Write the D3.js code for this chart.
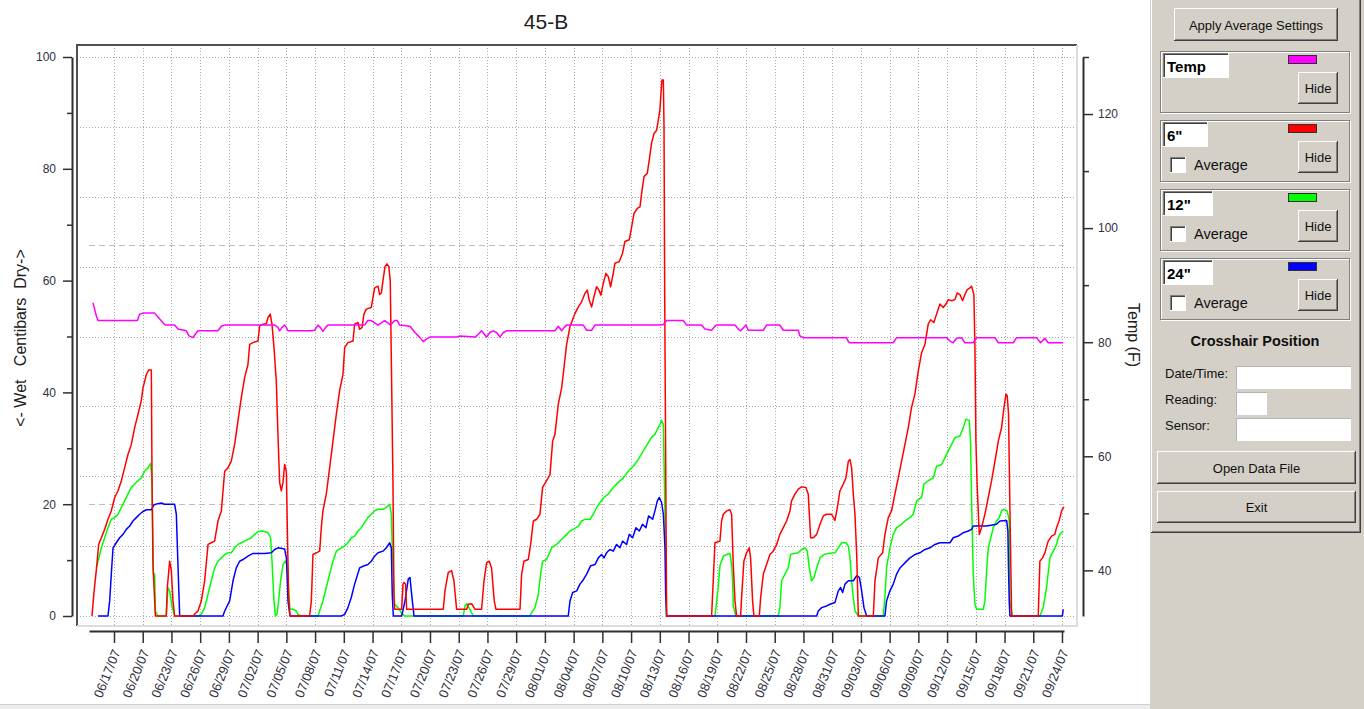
<!DOCTYPE html>
<html>
<head>
<meta charset="utf-8">
<script src="https://cdn.jsdelivr.net/npm/d3@7"></script>
<style>
  body { margin: 0; background: #fff; overflow: hidden; }
  text { font-family: "Liberation Sans", Arial, sans-serif; }
</style>
</head>
<body>
<svg id="chart" width="1364" height="709"></svg>
<script>
// chart values, days counted from 06/17/07 00:00
const title = "45-B";
const firstTickDay = Date.UTC(2007, 5, 17);
const tickDays = d3.range(0, 100, 3);
const leftTicks = [0, 20, 40, 60, 80, 100];
const leftMinor = [10, 30, 50, 70, 90];
const rightTicks = [40, 60, 80, 100, 120];
const rightMinor = [50, 70, 90, 110, 130];
const refLines = [20, 66.4];

// Temp (F), right axis
const temp = [[-2.19,86.9],[-1.84,84.6],[-1.67,83.8],[2.44,83.8],[2.68,84.9],[3.03,85.1],[4.25,85.1],[4.59,84.4],[5.12,83.4],[5.36,83.0],[6.33,83.0],[6.68,82.3],[7.55,82.0],[7.83,81.1],[8.25,80.8],[8.49,81.4],[8.77,82.0],[10.86,82.0],[11.21,82.8],[11.56,83.0],[16.78,83.0],[17.12,82.6],[17.30,82.0],[17.54,82.6],[17.82,83.0],[18.00,82.6],[18.17,82.0],[20.61,82.0],[20.95,82.1],[21.30,83.0],[21.55,82.6],[21.82,81.9],[22.10,82.6],[22.35,83.0],[26.17,83.0],[26.52,83.8],[26.87,83.8],[27.22,83.4],[27.57,83.0],[27.92,83.4],[28.26,83.8],[28.61,83.4],[28.89,83.0],[29.31,83.8],[29.59,83.8],[29.83,83.0],[30.91,82.8],[31.43,81.7],[31.95,80.8],[32.30,80.1],[32.58,80.5],[33.00,80.9],[35.78,80.9],[36.13,81.1],[37.70,80.9],[38.04,81.4],[38.39,82.0],[38.67,81.4],[38.91,80.9],[39.25,81.7],[39.60,82.0],[39.95,81.7],[40.31,80.9],[40.65,81.7],[41.00,82.0],[46.05,82.0],[46.40,82.8],[46.75,82.0],[47.02,82.6],[47.27,83.0],[49.01,83.0],[49.36,82.1],[49.88,82.1],[50.23,83.0],[57.02,83.0],[57.37,83.1],[57.71,83.8],[59.45,83.8],[59.80,83.0],[61.36,83.0],[61.71,82.3],[62.41,82.1],[62.76,82.8],[62.93,83.0],[64.85,83.0],[65.19,82.3],[65.44,82.0],[65.78,82.6],[65.99,83.0],[66.24,82.1],[67.81,82.1],[68.15,83.0],[69.54,83.0],[69.89,82.1],[71.46,82.1],[71.63,81.1],[71.98,80.8],[76.51,80.8],[76.69,80.1],[76.86,79.9],[81.38,79.9],[81.73,80.8],[86.95,80.8],[87.30,80.2],[87.64,79.9],[87.99,80.7],[88.51,80.8],[88.86,79.9],[89.73,79.9],[90.08,80.8],[92.00,80.8],[92.35,79.9],[93.91,79.9],[94.26,80.8],[96.35,80.8],[96.76,79.9],[97.21,80.7],[97.56,79.9],[99.13,79.9]];

// 6" sensor, centibars
const sixInch = [[-2.30,0],[-2.09,4.2],[-1.84,8.3],[-1.60,12.8],[-1.32,14.0],[-0.97,15.5],[-0.63,17.3],[-0.28,18.8],[0.07,21.2],[0.42,22.4],[0.77,24.2],[1.11,26.5],[1.46,28.9],[1.81,30.7],[2.16,33.7],[2.51,36.1],[2.85,38.5],[3.03,40.8],[3.38,43.2],[3.62,44.0],[3.90,44.0],[3.97,24.7],[4.07,9.2],[4.32,0],
  [5.46,0],[5.57,5.1],[5.81,9.8],[5.99,8.1],[6.16,2.7],[6.33,0],
  [8.25,0],[8.42,0.3],[8.77,0.9],[9.12,2.7],[9.47,6.3],[9.82,12.8],[10.16,13.1],[10.51,13.4],[10.86,17.0],[11.21,18.8],[11.56,25.9],[11.90,26.5],[12.25,27.7],[12.60,30.7],[12.95,34.9],[13.30,39.1],[13.64,42.6],[13.99,45.0],[14.17,48.6],[14.51,48.9],[15.04,49.2],[15.21,51.9],[15.56,52.2],[15.91,52.3],[16.08,53.4],[16.32,54.0],[16.50,52.2],[16.71,48.0],[16.95,42.0],[17.12,32.5],[17.30,23.9],[17.47,22.4],[17.65,23.9],[17.82,27.1],[18.00,25.9],[18.10,15.8],[18.24,3.3],[18.38,0],
  [20.43,0],[20.61,2.7],[20.78,11.0],[21.13,11.3],[21.48,11.6],[21.65,15.8],[21.82,18.8],[22.17,21.8],[22.52,26.5],[22.87,31.3],[23.22,36.1],[23.56,40.3],[23.91,43.2],[24.09,48.0],[24.43,48.9],[24.96,49.2],[25.13,52.2],[25.48,52.5],[25.65,51.3],[25.90,51.6],[26.10,54.0],[26.35,54.9],[26.87,55.2],[27.04,56.9],[27.22,58.7],[27.57,59.0],[27.74,57.5],[27.92,57.8],[28.09,60.0],[28.30,62.5],[28.50,63.0],[28.70,62.5],[28.85,60.0],[28.96,46.2],[29.13,24.2],[29.24,3.3],[29.31,1.2],
  [30.04,1.2],[30.18,5.7],[30.30,6.0],[30.45,5.7],[30.56,1.2],
  [34.39,1.2],[34.56,4.5],[34.91,7.8],[35.26,8.1],[35.50,6.3],[35.78,1.2],
  [36.83,1.2],[37.00,2.1],[37.35,2.2],[37.70,1.2],
  [38.39,1.2],[38.64,6.3],[38.91,9.5],[39.19,9.8],[39.43,8.6],[39.71,2.7],[39.89,1.2],
  [42.40,1.2],[42.57,7.5],[42.81,9.8],[43.26,10.1],[43.51,12.8],[43.79,17.0],[44.14,17.3],[44.48,18.2],[44.76,23.0],[45.18,24.2],[45.53,25.3],[45.81,31.3],[46.05,32.5],[46.40,37.9],[46.75,40.8],[46.99,44.4],[47.27,48.6],[47.62,51.8],[48.14,54.1],[48.49,55.3],[48.83,56.2],[49.18,57.7],[49.43,58.3],[49.63,56.5],[49.88,55.3],[50.12,57.1],[50.40,58.9],[50.64,58.3],[50.85,57.4],[51.10,59.5],[51.37,61.3],[51.62,60.7],[51.86,58.9],[52.14,61.3],[52.31,63.1],[52.77,63.4],[53.11,64.9],[53.36,67.0],[53.81,67.3],[54.06,69.6],[54.30,72.0],[54.65,72.9],[54.93,73.2],[55.10,75.6],[55.35,78.6],[55.69,79.2],[55.90,81.6],[56.14,84.6],[56.39,86.3],[56.67,86.9],[56.84,88.7],[57.01,90.5],[57.12,93.5],[57.23,95.9],[57.37,95.9],[57.44,87.5],[57.51,57.7],[57.71,0],
  [62.41,0],[62.58,6.3],[62.76,13.1],[63.28,13.4],[63.45,17.0],[63.63,18.2],[63.98,18.8],[64.32,19.0],[64.50,18.2],[64.67,9.2],[64.85,2.7],[65.02,0],
  [65.44,0],[65.54,3.3],[65.78,9.8],[66.06,11.3],[66.34,12.2],[66.48,10.4],[66.69,2.7],[66.83,0],
  [67.39,0],[67.53,3.3],[67.81,7.5],[68.15,9.2],[68.50,11.0],[68.85,11.6],[69.20,12.8],[69.54,14.6],[69.89,15.8],[70.24,17.0],[70.59,18.8],[70.76,20.6],[71.11,21.8],[71.46,22.7],[71.80,23.1],[72.26,23.0],[72.50,21.8],[72.75,14.0],[73.03,14.0],[73.38,14.6],[73.73,16.4],[74.07,17.9],[74.42,18.2],[74.94,18.2],[75.29,17.1],[75.54,19.4],[75.81,22.4],[76.16,23.6],[76.44,24.7],[76.69,27.7],[76.86,28.0],[77.03,26.5],[77.21,21.8],[77.38,18.2],[77.56,11.0],[77.73,0],
  [79.30,0],[79.47,6.3],[79.82,10.4],[80.27,11.3],[80.51,14.6],[80.86,17.6],[81.20,18.8],[81.55,21.8],[81.90,24.7],[82.25,27.7],[82.60,30.7],[82.95,33.7],[83.29,37.3],[83.64,39.7],[83.99,43.8],[84.34,47.1],[84.69,48.6],[85.03,52.2],[85.28,53.0],[85.62,52.5],[85.90,54.0],[86.25,55.8],[86.60,55.2],[86.88,55.8],[87.12,56.6],[87.47,56.4],[87.82,56.6],[88.06,57.8],[88.34,57.5],[88.62,56.4],[88.86,57.5],[89.11,58.4],[89.38,58.7],[89.56,59.0],[89.80,57.5],[89.91,48.0],[90.01,31.3],[90.15,23.0],[90.36,14.6],[90.60,15.8],[90.95,18.2],[91.30,21.2],[91.65,24.2],[92.00,27.7],[92.35,31.3],[92.69,33.7],[92.94,37.3],[93.15,39.7],[93.28,39.4],[93.42,36.1],[93.56,19.4],[93.74,0],
  [96.52,0],[96.69,9.8],[96.97,10.4],[97.21,11.3],[97.56,13.4],[97.91,14.3],[98.26,14.6],[98.43,15.8],[98.71,17.1],[98.96,18.8],[99.20,19.5]];

// 12" sensor
const twelveInch = [[-1.84,8.6],[-1.67,9.8],[-1.32,12.2],[-0.97,14.0],[-0.63,15.8],[-0.28,17.3],[0.07,17.6],[0.42,18.2],[0.77,19.4],[1.11,20.6],[1.46,21.8],[1.81,23.0],[2.16,23.6],[2.51,24.2],[2.85,24.7],[3.20,25.9],[3.55,26.5],[3.83,27.3],[3.97,24.2],[4.11,7.5],[4.25,7.5],[4.32,0.9],[4.59,0],
  [5.46,0],[5.64,5.1],[5.81,4.5],[6.09,1.5],[6.33,0],
  [8.77,0],[9.12,0.3],[9.47,1.5],[9.82,3.9],[10.16,6.3],[10.51,8.6],[10.86,9.8],[11.21,10.4],[11.56,11.0],[11.90,11.3],[12.25,11.3],[12.60,12.2],[12.95,12.8],[13.30,13.1],[13.64,13.4],[13.99,13.7],[14.34,14.0],[14.69,14.6],[15.04,15.1],[15.56,15.2],[16.08,14.9],[16.36,14.0],[16.50,9.8],[16.71,2.7],[16.85,0],[17.02,0.3],[17.19,2.7],[17.40,6.3],[17.65,9.2],[17.89,9.8],[18.10,9.2],[18.24,4.5],[18.38,1.2],[18.69,1.2],[19.04,0.9],[19.21,0.3],[19.56,0],
  [21.30,0],[21.48,0.9],[21.82,2.7],[22.17,5.1],[22.52,7.5],[22.87,9.8],[23.22,11.6],[23.74,12.2],[24.09,12.5],[24.43,13.1],[24.78,14.0],[25.13,14.3],[25.48,15.2],[25.83,15.8],[26.17,16.7],[26.52,17.6],[26.87,18.2],[27.22,18.8],[27.57,19.1],[28.09,19.1],[28.44,19.4],[28.79,20.0],[28.96,18.2],[29.06,12.2],[29.17,7.5],[29.31,2.1],[29.66,1.5],[30.00,0.6],[30.35,0],
  [36.48,0],[36.65,1.8],[36.83,2.2],[37.17,1.2],[37.52,0],
  [43.44,0],[43.61,0.6],[43.96,1.5],[44.31,3.9],[44.55,7.5],[44.76,9.8],[45.18,10.1],[45.70,12.2],[46.22,12.8],[46.57,13.4],[46.92,14.0],[47.27,14.6],[47.62,15.2],[47.97,15.5],[48.50,16.1],[48.84,17.0],[49.18,17.3],[49.71,17.3],[50.05,18.2],[50.40,19.4],[50.75,20.3],[51.17,21.2],[51.62,21.8],[52.14,23.0],[52.66,23.9],[53.19,24.7],[53.71,25.9],[54.23,26.8],[54.75,28.0],[55.27,29.5],[55.80,31.0],[56.15,32.0],[56.49,32.5],[56.74,33.4],[57.02,34.3],[57.19,35.0],[57.37,34.3],[57.54,18.2],[57.71,0],
  [62.76,0],[63.10,5.1],[63.28,9.0],[63.63,10.7],[63.98,11.0],[64.32,11.2],[64.50,9.2],[64.60,6.3],[64.67,1.8],[64.95,0],
  [69.37,0],[69.54,1.5],[69.72,6.3],[70.07,7.5],[70.41,8.6],[70.66,11.0],[71.00,11.2],[71.46,11.3],[71.80,11.9],[72.15,12.2],[72.40,11.6],[72.61,8.6],[72.85,6.3],[73.10,6.9],[73.38,8.6],[73.73,10.4],[74.14,11.0],[74.59,11.2],[75.29,11.3],[75.64,12.2],[75.99,13.1],[76.44,13.1],[76.69,12.5],[76.86,10.4],[77.03,6.3],[77.21,3.3],[77.38,0.9],[77.73,0],
  [80.33,0],[80.51,3.3],[80.68,8.6],[81.03,12.2],[81.38,14.6],[81.73,15.8],[82.25,16.4],[82.60,17.0],[83.12,17.6],[83.47,18.2],[83.82,20.6],[84.34,21.2],[84.58,23.6],[85.03,24.2],[85.56,24.7],[85.90,26.8],[86.43,27.1],[86.77,28.3],[87.12,29.5],[87.47,30.7],[87.82,31.9],[88.34,32.2],[88.69,33.7],[88.97,35.2],[89.32,35.0],[89.45,31.3],[89.56,20.6],[89.73,7.5],[89.91,2.1],[90.08,1.2],[90.78,1.2],[90.95,2.7],[91.13,8.1],[91.30,12.2],[91.48,13.4],[91.65,14.6],[91.82,15.8],[92.17,17.0],[92.45,17.6],[92.69,18.8],[92.94,19.1],[93.28,18.8],[93.49,17.0],[93.56,2.7],[93.67,1.5],[93.84,0],
  [96.69,0],[97.04,1.5],[97.39,5.1],[97.74,10.4],[98.09,11.6],[98.43,12.8],[98.61,14.0],[98.78,14.6],[99.13,15.2]];

// 24" sensor
const twentyFourInch = [[-1.67,0],[-0.63,0],[-0.45,2.7],[-0.28,7.5],[-0.10,12.2],[0.24,13.1],[0.59,14.0],[0.94,14.6],[1.29,15.5],[1.64,16.1],[1.98,17.0],[2.33,17.6],[2.68,18.2],[3.03,18.7],[3.38,19.0],[3.90,19.0],[4.18,19.9],[4.59,20.1],[4.94,20.2],[5.29,20.0],[6.33,20.0],[6.51,18.2],[6.68,9.2],[6.86,0],
  [11.38,0],[11.56,0.9],[12.08,2.7],[12.43,6.3],[12.77,8.6],[13.12,9.8],[13.47,10.1],[13.99,10.7],[14.51,11.2],[15.73,11.2],[16.43,11.3],[16.78,11.9],[17.12,12.2],[17.82,12.0],[18.00,10.4],[18.10,6.3],[18.17,2.7],[18.38,0],
  [23.74,0],[24.09,0.3],[24.43,1.5],[24.78,3.3],[25.13,5.7],[25.65,8.6],[26.00,8.9],[26.52,9.2],[26.87,9.8],[27.22,10.7],[27.57,11.3],[28.09,11.6],[28.44,12.2],[28.79,13.1],[28.96,12.2],[29.06,3.9],[29.17,0],
  [30.04,0],[30.39,2.7],[30.73,6.6],[30.91,6.9],[31.12,3.3],[31.33,0],
  [47.44,0],[47.62,2.7],[47.90,4.2],[48.32,4.5],[48.66,5.7],[48.94,6.3],[49.36,7.5],[49.78,9.0],[50.23,9.2],[50.58,10.4],[50.92,11.0],[51.17,10.4],[51.44,11.3],[51.79,11.9],[52.14,11.6],[52.49,12.8],[52.84,12.2],[53.12,13.4],[53.53,12.8],[53.81,14.6],[54.16,14.0],[54.51,15.8],[54.86,15.2],[55.20,16.4],[55.55,15.8],[55.83,17.9],[56.25,17.3],[56.49,18.8],[56.74,20.6],[56.95,21.2],[57.19,20.3],[57.37,18.2],[57.54,12.2],[57.61,3.9],[57.71,0],
  [73.38,0],[73.55,0.9],[73.90,1.5],[74.42,1.8],[74.77,2.1],[75.29,2.4],[75.64,4.5],[75.88,5.1],[76.09,4.2],[76.34,5.7],[76.69,6.3],[77.21,6.3],[77.56,7.2],[77.84,6.9],[78.08,4.5],[78.32,1.5],[78.60,0],
  [80.51,0],[80.68,2.7],[81.03,4.5],[81.38,5.7],[81.73,7.5],[82.08,8.6],[82.60,9.5],[83.12,10.4],[83.64,11.0],[84.16,11.3],[84.69,11.9],[85.21,12.2],[85.73,12.8],[86.25,13.1],[87.30,13.1],[87.64,14.0],[88.17,14.3],[88.69,14.9],[89.21,15.2],[89.56,15.5],[89.73,16.1],[91.13,16.1],[92.17,16.4],[92.52,17.0],[93.22,17.1],[93.35,15.2],[93.42,8.1],[93.49,2.7],[93.56,0],
  [99.04,0],[99.13,1.2]];

// side panel texts
const sensorNames = ["Temp", '6"', '12"', '24"'];
const hasAverage = [false, true, true, true];
const crosshairFields = ["Date/Time:", "Reading:", "Sensor:"];

// styles
const sensorColors = ["#ff00ff", "#ff0000", "#00ff00", "#0000ff"];
const face = "#d4d0c8";

const toDate = d => new Date(firstTickDay + d * 864e5);

const svg = d3.select("#chart");

// scales
const x = d3.scaleUtc().domain([toDate(-2.61), toDate(99.21)]).range([89, 1064]);
const yL = d3.scaleLinear().domain([0, 100]).range([616, 57]);
const yR = d3.scaleLinear().domain([32, 130]).range([616, 57]);

const plot = { left: 77, top: 45, right: 1077, bottom: 626 };

// grid
const grid = svg.append("g").attr("stroke", "#a8a8a8").attr("stroke-dasharray", "1,2").attr("shape-rendering", "crispEdges");
grid.selectAll("line.h").data(d3.range(0, 100.1, 12.5)).join("line")
  .attr("x1", plot.left).attr("x2", plot.right)
  .attr("y1", d => Math.round(yL(d)) + 0.5).attr("y2", d => Math.round(yL(d)) + 0.5);
grid.selectAll("line.v").data(tickDays).join("line")
  .attr("class", "v")
  .attr("x1", d => Math.round(x(toDate(d))) + 0.5).attr("x2", d => Math.round(x(toDate(d))) + 0.5)
  .attr("y1", plot.top).attr("y2", plot.bottom);

svg.append("g").selectAll("line").data(refLines).join("line")
  .attr("x1", x.range()[0]).attr("x2", x.range()[1])
  .attr("y1", d => Math.round(yL(d)) + 0.5).attr("y2", d => Math.round(yL(d)) + 0.5)
  .attr("stroke", "#bdbdbd").attr("stroke-dasharray", "6,4");

// frame
svg.append("path")
  .attr("d", `M${plot.left},${plot.bottom}V${plot.top}H${plot.right}`)
  .attr("fill", "none").attr("stroke", "#505050").attr("stroke-width", 2);
svg.append("path")
  .attr("d", `M${plot.left},${plot.bottom}H${plot.right}V${plot.top}`)
  .attr("fill", "none").attr("stroke", "#dcdcdc").attr("stroke-width", 2);

// series
const lineL = d3.line().x(d => x(toDate(d[0]))).y(d => yL(d[1]));
const lineR = d3.line().x(d => x(toDate(d[0]))).y(d => yR(d[1]));
[[twelveInch, 2], [twentyFourInch, 3], [sixInch, 1]].forEach(([s, i]) => {
  svg.append("path").attr("d", lineL(s)).attr("fill", "none")
    .attr("stroke", sensorColors[i]).attr("stroke-width", 1.5).attr("stroke-linejoin", "round");
});
svg.append("path").attr("d", lineR(temp)).attr("fill", "none")
  .attr("stroke", sensorColors[0]).attr("stroke-width", 1.5).attr("stroke-linejoin", "round");

// axes
function styleAxis(g) {
  g.select(".domain").attr("stroke", "#303030").attr("stroke-width", 2);
  g.selectAll(".tick line").attr("stroke", "#303030").attr("stroke-width", 1.5);
  g.selectAll("text").attr("fill", "#303040").attr("font-size", 12)
    .attr("font-family", '"Liberation Sans", Arial, sans-serif');
}

svg.append("g").attr("transform", "translate(72,0)")
  .call(d3.axisLeft(yL).tickValues(leftTicks).tickSize(9).tickPadding(7).tickSizeOuter(0))
  .call(styleAxis);
svg.append("g").attr("transform", "translate(72,0)")
  .call(d3.axisLeft(yL).tickValues(leftMinor).tickSize(5).tickFormat(""))
  .call(g => g.select(".domain").remove())
  .call(styleAxis);

svg.append("g").attr("transform", "translate(1083,0)")
  .call(d3.axisRight(yR).tickValues(rightTicks).tickSize(10).tickPadding(5).tickSizeOuter(0))
  .call(styleAxis);
svg.append("g").attr("transform", "translate(1083,0)")
  .call(d3.axisRight(yR).tickValues(rightMinor).tickSize(6).tickFormat(""))
  .call(g => g.select(".domain").remove())
  .call(styleAxis);

svg.append("g").attr("transform", "translate(0,631)")
  .call(d3.axisBottom(x).tickValues(tickDays.map(toDate)).tickFormat(d3.utcFormat("%m/%d/%y"))
    .tickSize(12).tickSizeOuter(0))
  .call(styleAxis)
  .call(g => g.selectAll(".tick text")
    .attr("font-size", 13)
    .attr("x", 0).attr("y", 0).attr("dy", "0.35em")
    .attr("text-anchor", "end")
    .attr("transform", "translate(2,19) rotate(-68)"));

// titles
svg.append("text").attr("x", 546).attr("y", 29).attr("text-anchor", "middle")
  .attr("font-size", 21).attr("fill", "#202020").text(title);
svg.append("text").attr("transform", "translate(26,338) rotate(-90)").attr("text-anchor", "middle")
  .attr("font-size", 16).attr("fill", "#202020")
  .text("<- Wet\u00a0\u00a0 Centibars\u00a0 Dry->");
svg.append("text").attr("transform", "translate(1128,335) rotate(90)").attr("text-anchor", "middle")
  .attr("font-size", 16).attr("fill", "#202020").text("Temp (F)");

// bottom scroll strip
svg.append("rect").attr("x", 0).attr("y", 704).attr("width", 1150).attr("height", 5).attr("fill", "#ececec");
svg.append("line").attr("x1", 0).attr("x2", 1150).attr("y1", 704.5).attr("y2", 704.5).attr("stroke", "#d0d0d0");

// ---- side panel ----
const panel = svg.append("g").attr("shape-rendering", "crispEdges");
panel.append("rect").attr("x", 1150).attr("y", 0).attr("width", 214).attr("height", 709).attr("fill", face);
panel.append("path").attr("d", "M1151.5,532V0").attr("stroke", "#fff").attr("fill", "none");
panel.append("path").attr("d", "M1151,532.5H1360.5V0").attr("stroke", "#404040").attr("fill", "none");
panel.append("path").attr("d", "M1152,531.5H1359.5V0").attr("stroke", "#808080").attr("fill", "none");

function raised(g, x0, y0, w, h) {
  g.append("rect").attr("x", x0).attr("y", y0).attr("width", w).attr("height", h).attr("fill", face);
  g.append("path").attr("d", `M${x0 + 0.5},${y0 + h - 1}V${y0 + 0.5}H${x0 + w - 1}`).attr("stroke", "#fff").attr("fill", "none");
  g.append("path").attr("d", `M${x0},${y0 + h - 0.5}H${x0 + w - 0.5}V${y0}`).attr("stroke", "#404040").attr("fill", "none");
  g.append("path").attr("d", `M${x0 + 1},${y0 + h - 1.5}H${x0 + w - 1.5}V${y0 + 1}`).attr("stroke", "#808080").attr("fill", "none");
}
function sunken(g, x0, y0, w, h, light) {
  g.append("rect").attr("x", x0).attr("y", y0).attr("width", w).attr("height", h).attr("fill", "#fff");
  if (light) {
    g.append("path").attr("d", `M${x0 + 0.5},${y0 + h}V${y0 + 0.5}H${x0 + w}`).attr("stroke", "#b4b4b4").attr("fill", "none");
    return;
  }
  g.append("path").attr("d", `M${x0 + 0.5},${y0 + h}V${y0 + 0.5}H${x0 + w}`).attr("stroke", "#808080").attr("fill", "none");
  g.append("path").attr("d", `M${x0 + 1.5},${y0 + h - 1}V${y0 + 1.5}H${x0 + w - 1}`).attr("stroke", "#404040").attr("fill", "none");
  g.append("path").attr("d", `M${x0},${y0 + h - 0.5}H${x0 + w - 0.5}V${y0}`).attr("stroke", "#fff").attr("fill", "none");
}
function button(g, x0, y0, w, h, label) {
  raised(g, x0, y0, w, h);
  g.append("text").attr("x", x0 + w / 2).attr("y", y0 + h / 2 + 5).attr("text-anchor", "middle")
    .attr("font-size", 13).attr("fill", "#101010").text(label);
}

button(panel, 1174, 8, 164, 33, "Apply Average Settings");

const boxW = [66, 45, 50, 50];
sensorNames.forEach((name, i) => {
  const t = 51 + i * 69;
  panel.append("rect").attr("x", 1161.5).attr("y", t + 1.5).attr("width", 189).attr("height", 61)
    .attr("fill", "none").attr("stroke", "#fff");
  panel.append("rect").attr("x", 1160.5).attr("y", t + 0.5).attr("width", 189).attr("height", 61)
    .attr("fill", "none").attr("stroke", "#808080");
  sunken(panel, 1163, t + 2, boxW[i], 25, false);
  panel.append("text").attr("x", 1167).attr("y", t + 21).attr("font-size", 15).attr("font-weight", "bold")
    .attr("fill", "#000").text(name);
  panel.append("rect").attr("x", 1288).attr("y", t + 4).attr("width", 28).attr("height", 8)
    .attr("fill", sensorColors[i]).attr("stroke", "#303030").attr("stroke-width", 1);
  button(panel, 1298, t + 21, 40, 32, "Hide");
  if (hasAverage[i]) {
    sunken(panel, 1170, t + 37, 16, 16, false);
    panel.append("text").attr("x", 1194).attr("y", t + 50).attr("font-size", 14.5)
      .attr("fill", "#101010").text("Average");
  }
});

panel.append("text").attr("x", 1255).attr("y", 346).attr("text-anchor", "middle")
  .attr("font-size", 14.5).attr("font-weight", "bold").attr("fill", "#101010").text("Crosshair Position");
const fieldY = [366, 392, 418];
const fieldW = [115, 31, 115];
crosshairFields.forEach((f, i) => {
  panel.append("text").attr("x", 1165).attr("y", fieldY[i] + 12).attr("font-size", 13)
    .attr("fill", "#101010").text(f);
  sunken(panel, 1236, fieldY[i], fieldW[i], 23, true);
});

button(panel, 1157, 451, 199, 33, "Open Data File");
button(panel, 1157, 491, 199, 32, "Exit");
</script>
</body>
</html>
